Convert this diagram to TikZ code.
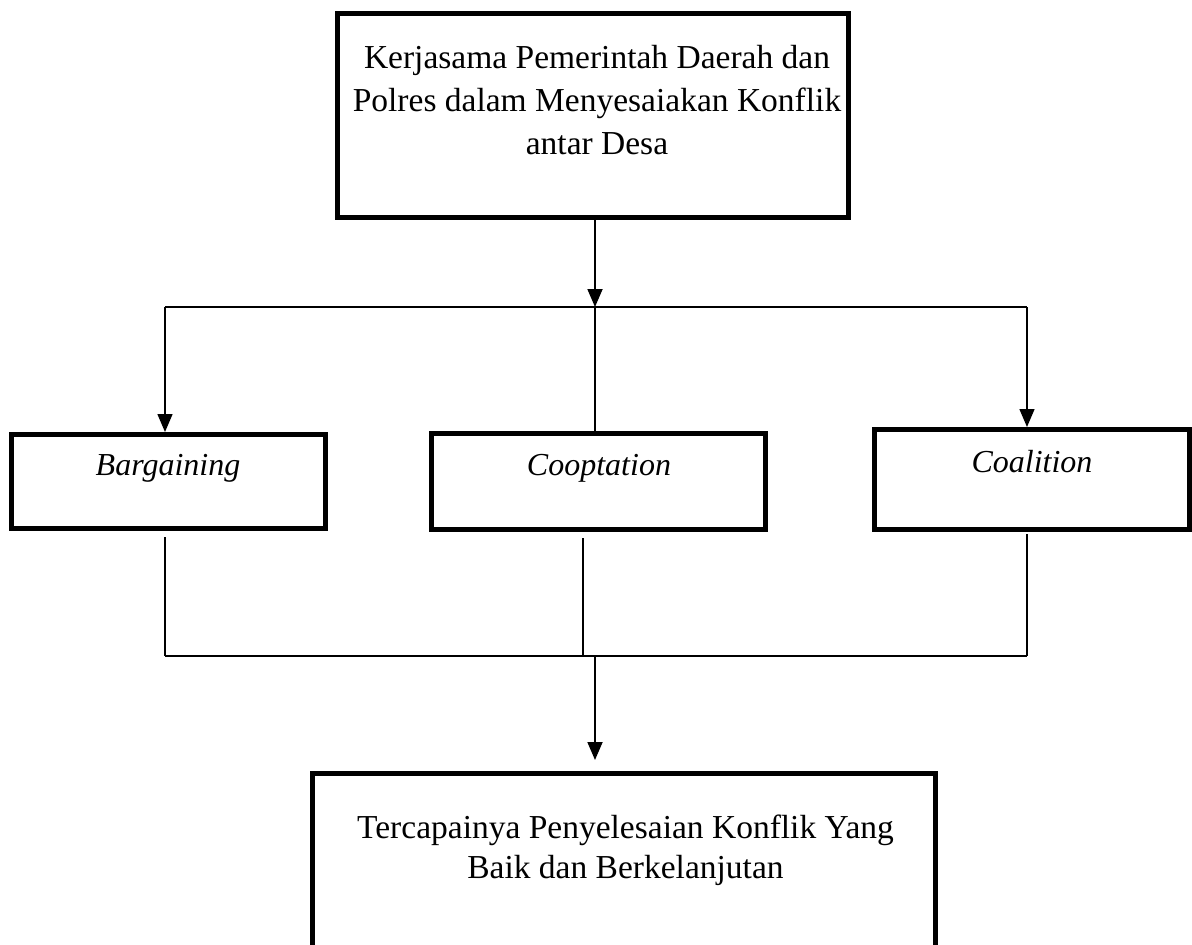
\documentclass[tikz,border=0pt]{standalone}
\usepackage{fontspec}
\setmainfont{Liberation Serif}
\usetikzlibrary{arrows.meta}

\begin{document}
\begin{tikzpicture}[x=1pt,y=-1pt,
  box/.style={draw,line width=5pt,inner sep=0pt},
  link/.style={line width=1.4pt},
  arr/.style={line width=1.8pt,-{Triangle[width=15pt,length=18pt]}},
  txt/.style={font=\fontsize{33.5}{40}\selectfont,align=center,inner sep=0pt},
  itxt/.style={font=\fontsize{32}{38}\selectfont\itshape,inner sep=0pt}]
\useasboundingbox (0,0) rectangle (1192,945);
\clip (0,0) rectangle (1192,945);

% Kerjasama
\node[box,minimum width=511pt,minimum height=204pt] (kerja) at (592.5,115) {};
\node[txt,anchor=north,font=\fontsize{33.5}{43}\selectfont] (kerja-t) at (597,45)
  {Kerjasama Pemerintah Daerah dan\\Polres dalam Menyesaiakan Konflik\\antar Desa};

% three ways
\node[box,minimum width=314pt,minimum height=94pt] (barg) at (168.5,481.5) {};
\node[itxt,anchor=base] (barg-t) at (168,475) {Bargaining};
\node[box,minimum width=334pt,minimum height=96pt] (coop) at (598.5,481.5) {};
\node[itxt,anchor=base] (coop-t) at (599,475) {Cooptation};
\node[box,minimum width=315pt,minimum height=100pt] (coal) at (1032,479.5) {};
\node[itxt,anchor=base] (coal-t) at (1032,472) {Coalition};

% result
\node[box,minimum width=623pt,minimum height=237pt] (hasil) at (623.5,891.5) {};
\node[txt,anchor=north] (hasil-t) at (625.5,815)
  {Tercapainya Penyelesaian Konflik Yang\\Baik dan Berkelanjutan};

% split
\coordinate (split) at (595,307);
\coordinate (splitL) at (165,307);
\coordinate (splitR) at (1027,307);
\draw[arr] (split |- kerja.south) -- (split);
\draw[link] (splitL) -- (splitR);
\draw[arr,line width=1.4pt] (splitL) -- (splitL |- barg.north);
\draw[link] (split) -- (split |- coop.north);
\draw[arr,line width=1.4pt] (splitR) -- (splitR |- coal.north);

% join
\coordinate (joinL) at (165,656);
\coordinate (joinM) at (583,656);
\coordinate (joinR) at (1027,656);
\coordinate (join) at (595,656);
\draw[link] (165,537) -- (joinL);
\draw[link] (583,538) -- (joinM);
\draw[link] (1027,534) -- (joinR);
\draw[link] (joinL) -- (joinR);
\draw[arr] (join) -- (595,760) coordinate (down);
\end{tikzpicture}
\end{document}
